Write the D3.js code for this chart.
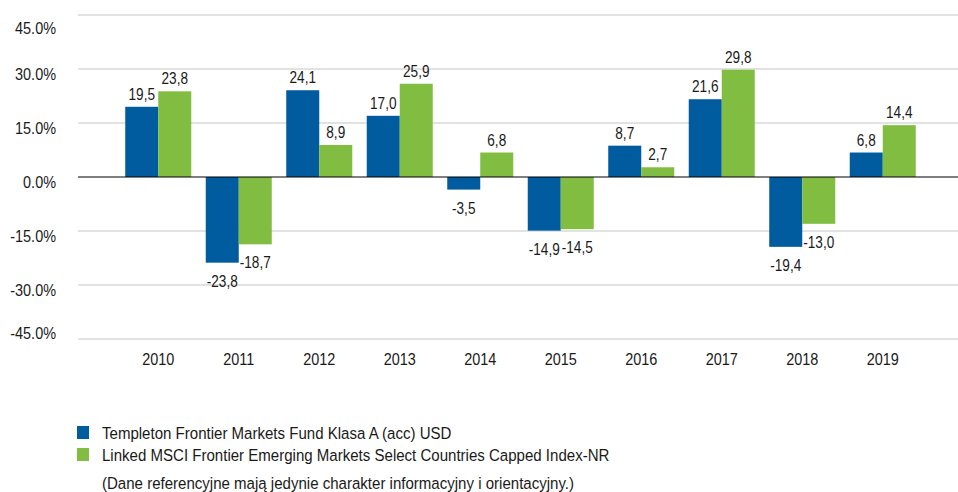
<!DOCTYPE html>
<html>
<head>
<meta charset="utf-8">
<script src="https://cdn.jsdelivr.net/npm/d3@7"></script>
<style>
  body { margin: 0; background: #fff; }
  svg text { font-family: "Liberation Sans", Arial, sans-serif; fill: #1a1a1a; }
</style>
</head>
<body>
<div id="chart"></div>
<script>
const years = ['2010', '2011', '2012', '2013', '2014', '2015', '2016', '2017', '2018', '2019'];
const fundValues = [19.5, -23.8, 24.1, 17.0, -3.5, -14.9, 8.7, 21.6, -19.4, 6.8];
const indexValues = [23.8, -18.7, 8.9, 25.9, 6.8, -14.5, 2.7, 29.8, -13.0, 14.4];
const seriesNames = [
  'Templeton Frontier Markets Fund Klasa A (acc) USD',
  'Linked MSCI Frontier Emerging Markets Select Countries Capped Index-NR'
];
const yTicks = [-45, -30, -15, 0, 15, 30, 45];
const note = '(Dane referencyjne mają jedynie charakter informacyjny i orientacyjny.)';

const width = 958;
const height = 492;
const colors = ['#005B9F', '#80BD41'];
const narrow = 'scale(0.85,1)';

const fmt = d => d3.format('.1f')(d).replace('\u2212', '-');

const svg = d3.select('#chart').append('svg')
  .attr('width', width)
  .attr('height', height);

const x = d3.scaleBand()
  .domain(years)
  .range([118, 923])
  .paddingInner(0.18)
  .paddingOuter(0.09);

const xSub = d3.scaleBand()
  .domain([0, 1])
  .range([0, x.bandwidth()]);

const y = d3.scaleLinear()
  .domain([-45, 45])
  .range([339, 15]);

// gridlines
svg.append('g')
  .selectAll('line')
  .data(yTicks.filter(t => t !== 0))
  .enter().append('line')
    .attr('x1', 78)
    .attr('x2', width)
    .attr('y1', d => y(d))
    .attr('y2', d => y(d))
    .attr('stroke', '#e2e2e2')
    .attr('stroke-width', 2);

// y labels (the outer ones sit a bit inside, as in the original)
svg.append('g')
  .selectAll('text')
  .data(yTicks)
  .enter().append('text')
    .attr('transform', d => `translate(56,${Math.min(Math.max(y(d) + 5, 28), 333)}) ${narrow}`)
    .attr('dy', '0.35em')
    .attr('text-anchor', 'end')
    .attr('font-size', 17)
    .text(d => fmt(d) + '%');

const data = years.map((yr, i) => ({ year: yr, vals: [fundValues[i], indexValues[i]] }));

const groups = svg.append('g')
  .selectAll('g')
  .data(data)
  .enter().append('g')
    .attr('transform', d => `translate(${x(d.year)},0)`);

groups.selectAll('rect')
  .data(d => d.vals.map((v, k) => ({ v, k })))
  .enter().append('rect')
    .attr('x', d => xSub(d.k))
    .attr('width', xSub.bandwidth())
    .attr('y', d => y(Math.max(0, d.v)))
    .attr('height', d => Math.abs(y(d.v) - y(0)))
    .attr('fill', d => colors[d.k]);

groups.selectAll('text')
  .data(d => d.vals.map((v, k) => ({ v, k })))
  .enter().append('text')
    .attr('transform', d => `translate(${xSub(d.k) + xSub.bandwidth() / 2},${d.v >= 0 ? y(d.v) - 7 : y(d.v) + 24}) ${narrow}`)
    .attr('text-anchor', 'middle')
    .attr('font-size', 16)
    .text(d => fmt(d.v).replace('.', ','));

// zero line
svg.append('line')
  .attr('x1', 78)
  .attr('x2', width)
  .attr('y1', y(0))
  .attr('y2', y(0))
  .attr('stroke', '#000')
  .attr('stroke-width', 1.2);

// x labels
const xAxis = d3.axisBottom(x).tickSize(0).tickPadding(0);
svg.append('g')
  .attr('transform', 'translate(0,365)')
  .call(xAxis)
  .call(g => g.select('.domain').remove())
  .selectAll('text')
    .attr('font-size', 17)
    .attr('fill', '#1a1a1a')
    .attr('dy', 0)
    .attr('transform', narrow);
svg.selectAll('.tick text').attr('font-family', '"Liberation Sans", Arial, sans-serif');

// legend
const legend = svg.append('g')
  .selectAll('g')
  .data(seriesNames)
  .enter().append('g')
    .attr('transform', (d, i) => `translate(77,${426 + i * 22})`);

legend.append('rect')
  .attr('width', 12)
  .attr('height', 13)
  .attr('fill', (d, i) => colors[i]);

legend.append('text')
  .attr('transform', 'translate(25,13) scale(0.885,1)')
  .attr('font-size', 17)
  .text(d => d);

svg.append('text')
  .attr('transform', 'translate(102,489) scale(0.885,1)')
  .attr('font-size', 17)
  .text(note);
</script>
</body>
</html>
